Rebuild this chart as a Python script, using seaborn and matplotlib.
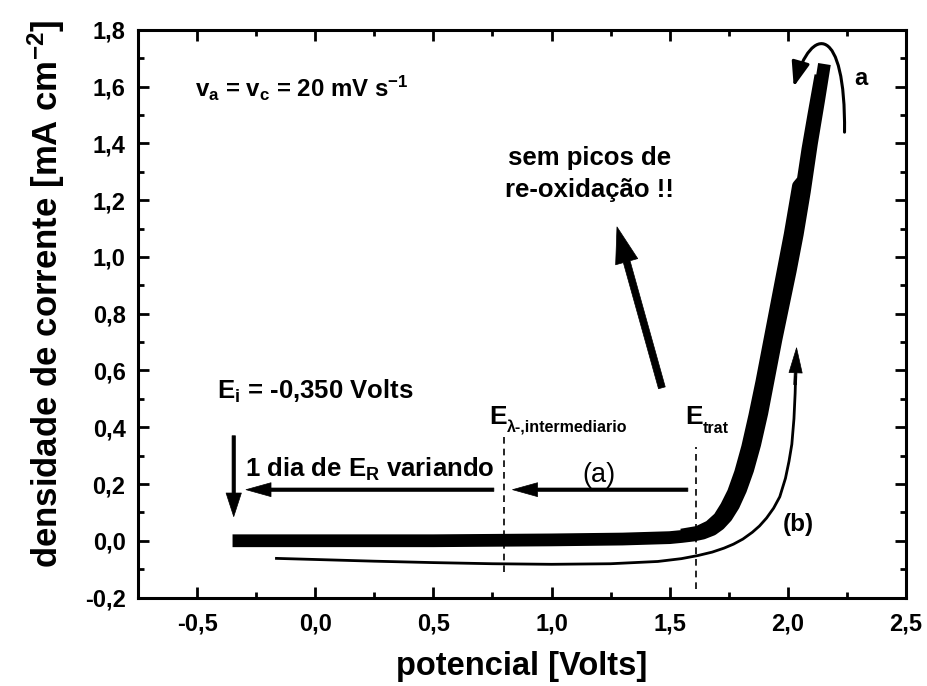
import numpy as np
import pandas as pd
import seaborn as sns
import matplotlib
matplotlib.use("Agg")
import matplotlib.pyplot as plt
from matplotlib.ticker import MultipleLocator, FuncFormatter
from matplotlib.patches import FancyArrowPatch
from matplotlib.path import Path

# ---------------- data ----------------
# curve (a): thick voltammogram, forward scan
a_fwd_x = [-0.35, 0.0, 0.5, 1.0, 1.3, 1.5, 1.55, 1.60, 1.64, 1.68, 1.71, 1.74,
           1.77, 1.80, 1.83, 1.86, 1.89, 1.92, 1.95, 1.98, 2.01, 2.04, 2.07,
           2.10, 2.13, 2.155]
a_fwd_y = [0.0, 0.0, 0.0, 0.003, 0.006, 0.011, 0.015, 0.02, 0.027, 0.04, 0.058,
           0.085, 0.125, 0.18, 0.25, 0.34, 0.45, 0.58, 0.71, 0.83, 0.95, 1.08,
           1.23, 1.40, 1.55, 1.68]
# curve (a): return scans (slightly shifted, makes the band wider)
a_ret_x = [2.14, 2.11, 2.085, 2.065, 2.045, 2.01, 1.98, 1.95, 1.92, 1.89, 1.86,
           1.83, 1.80, 1.77, 1.74, 1.71, 1.67, 1.62, 1.55]
a_ret_y = [1.64, 1.50, 1.38, 1.27, 1.25, 1.08, 0.95, 0.82, 0.69, 0.56, 0.44,
           0.33, 0.24, 0.17, 0.12, 0.08, 0.05, 0.03, 0.02]
# curve (b): thin voltammogram
b_x = [-0.17, 0.0, 0.25, 0.5, 0.75, 1.0, 1.25, 1.45, 1.55, 1.62, 1.68, 1.73,
       1.77, 1.81, 1.85, 1.88, 1.91, 1.94, 1.966, 1.99, 2.005, 2.017, 2.026,
       2.031, 2.033]
b_y = [-0.062, -0.066, -0.072, -0.077, -0.081, -0.083, -0.081, -0.073, -0.063,
       -0.052, -0.04, -0.026, -0.012, 0.006, 0.03, 0.052, 0.08, 0.115, 0.155,
       0.22, 0.28, 0.34, 0.43, 0.52, 0.58]

# reference potentials
E_lambda = 0.80
E_trat = 1.612

x_ticks = [-0.5, 0.0, 0.5, 1.0, 1.5, 2.0, 2.5]
y_ticks = [-0.2, 0.0, 0.2, 0.4, 0.6, 0.8, 1.0, 1.2, 1.4, 1.6, 1.8]

# ---------------- style ----------------
sns.set_theme(style="ticks")
plt.rcParams["font.family"] = ["Liberation Sans", "DejaVu Sans"]
plt.rcParams["font.weight"] = "bold"
plt.rcParams["text.color"] = "black"
plt.rcParams["axes.labelcolor"] = "black"
plt.rcParams["xtick.color"] = "black"
plt.rcParams["ytick.color"] = "black"
plt.rcParams["mathtext.fontset"] = "custom"
plt.rcParams["mathtext.rm"] = "Liberation Sans:bold"
plt.rcParams["mathtext.bf"] = "Liberation Sans:bold"
plt.rcParams["mathtext.it"] = "Liberation Sans:bold"
plt.rcParams["mathtext.default"] = "bf"
plt.rcParams["lines.solid_capstyle"] = "butt"
plt.rcParams["lines.solid_joinstyle"] = "round"

fig = plt.figure(figsize=(9.27, 6.86), dpi=100)
ax = fig.add_axes([0.1489, 0.129, 0.8284, 0.8273])

df_af = pd.DataFrame({"x": a_fwd_x, "y": a_fwd_y})
df_ar = pd.DataFrame({"x": a_ret_x, "y": a_ret_y})
df_b = pd.DataFrame({"x": b_x, "y": b_y})

sns.lineplot(data=df_af, x="x", y="y", sort=False, estimator=None,
             color="black", linewidth=9.2, ax=ax)
sns.lineplot(data=df_ar, x="x", y="y", sort=False, estimator=None,
             color="black", linewidth=9.2, ax=ax)
sns.lineplot(data=df_b, x="x", y="y", sort=False, estimator=None,
             color="black", linewidth=2.0, ax=ax)

ax.set_xlim(-0.75, 2.5)
ax.set_ylim(-0.2, 1.8)
ax.set_xticks(x_ticks)
ax.set_yticks(y_ticks)
ax.xaxis.set_minor_locator(MultipleLocator(0.25))
ax.yaxis.set_minor_locator(MultipleLocator(0.1))
fmt = FuncFormatter(lambda v, p: f"{v:.1f}".replace(".", ",").replace("-0,0", "0,0"))
ax.xaxis.set_major_formatter(fmt)
ax.yaxis.set_major_formatter(fmt)
ax.tick_params(which="both", direction="in", top=True, right=True, width=2,
               color="black", labelcolor="black")
ax.tick_params(which="major", length=8)
ax.tick_params(which="minor", length=4)
ax.tick_params(axis="x", which="major", pad=11, labelsize=17)
ax.tick_params(axis="y", which="major", pad=9, labelsize=17)
for lab in ax.get_xticklabels() + ax.get_yticklabels():
    lab.set_fontweight("bold")
for s in ax.spines.values():
    s.set_linewidth(2.2)
    s.set_color("black")

ax.set_xlabel("potencial [Volts]", fontsize=23.5, fontweight="bold", labelpad=11,
              color="black")
ax.set_ylabel(r"densidade de corrente [mA cm$^{\mathbf{-2}}$]", fontsize=25,
              fontweight="bold", color="black")
ax.yaxis.set_label_coords(-0.093, 0.535)

# ---------------- annotations ----------------
ax.text(-0.51, 1.563, r"v$_{\mathbf{a}}$ = v$_{\mathbf{c}}$ = 20 mV s$^{\mathbf{-1}}$",
        fontsize=17.3, fontweight="bold", va="baseline", ha="left")
ax.text(2.31, 1.605, "a", fontsize=17, fontweight="bold", ha="center", va="baseline")
ax.text(1.16, 1.324, "sem picos de", fontsize=18.5, fontweight="bold",
        ha="center", va="baseline")
ax.text(1.16, 1.211, "re-oxidação !!", fontsize=18.5, fontweight="bold",
        ha="center", va="baseline")
ax.text(-0.416, 0.50, r"E$_{\mathbf{i}}$ = -0,350 Volts", fontsize=18.5,
        fontweight="bold", va="baseline", ha="left")
ax.text(-0.297, 0.225, r"1 dia de E$_{\mathbf{R}}$ variando", fontsize=18.5,
        fontweight="bold", va="baseline", ha="left")
ax.text(1.20, 0.232, "(a)", fontsize=19.5, fontweight="normal", ha="center",
        va="center")
ax.text(0.735, 0.41, "E", fontsize=19, fontweight="bold", va="baseline", ha="left")
ax.annotate("λ-,intermediario", xy=(0.735, 0.41), xycoords="data",
            xytext=(13, -6), textcoords="offset points", fontsize=11.5,
            fontweight="bold", va="baseline", ha="left")
ax.text(1.564, 0.41, "E", fontsize=19, fontweight="bold", va="baseline", ha="left")
ax.annotate("trat", xy=(1.564, 0.41), xycoords="data",
            xytext=(13, -6), textcoords="offset points", fontsize=11.5,
            fontweight="bold", va="baseline", ha="left")
ax.text(2.046, 0.056, "(b)", fontsize=17.5, fontweight="bold", ha="center",
        va="center")

# dashed reference lines
ax.plot([E_lambda, E_lambda], [-0.11, 0.366], ls=(0, (4, 3)), lw=1.2, color="black")
ax.plot([E_trat, E_trat], [-0.17, 0.33], ls=(0, (4, 3)), lw=1.2, color="black")

def arrow(tail, tip, width, hw, hl):
    ax.annotate("", xy=tip, xytext=tail, xycoords="data", textcoords="data",
                arrowprops=dict(width=width, headwidth=hw, headlength=hl,
                                facecolor="black", edgecolor="black", lw=0.5,
                                shrink=0.0))

arrow((1.467, 0.539), (1.277, 1.106), 5.0, 16.5, 26)
arrow((0.756, 0.18), (-0.293, 0.18), 2.4, 10, 18)
arrow((1.577, 0.18), (0.835, 0.18), 2.4, 10, 18)
arrow((-0.345, 0.37), (-0.345, 0.085), 2.4, 11, 17)
arrow((2.031, 0.55), (2.037, 0.68), 2.0, 9.5, 18)

# curved arrow around the top of curve (a)
verts = [(2.24, 1.44), (2.245, 1.82), (2.10, 1.82), (2.025, 1.60)]
codes = [Path.MOVETO, Path.CURVE4, Path.CURVE4, Path.CURVE4]
curved = FancyArrowPatch(path=Path(verts, codes),
                         arrowstyle="-|>,head_length=15,head_width=5.5",
                         mutation_scale=1, lw=2.2, color="black",
                         transform=ax.transData)
ax.add_patch(curved)

fig.savefig("out.png", dpi=100)
